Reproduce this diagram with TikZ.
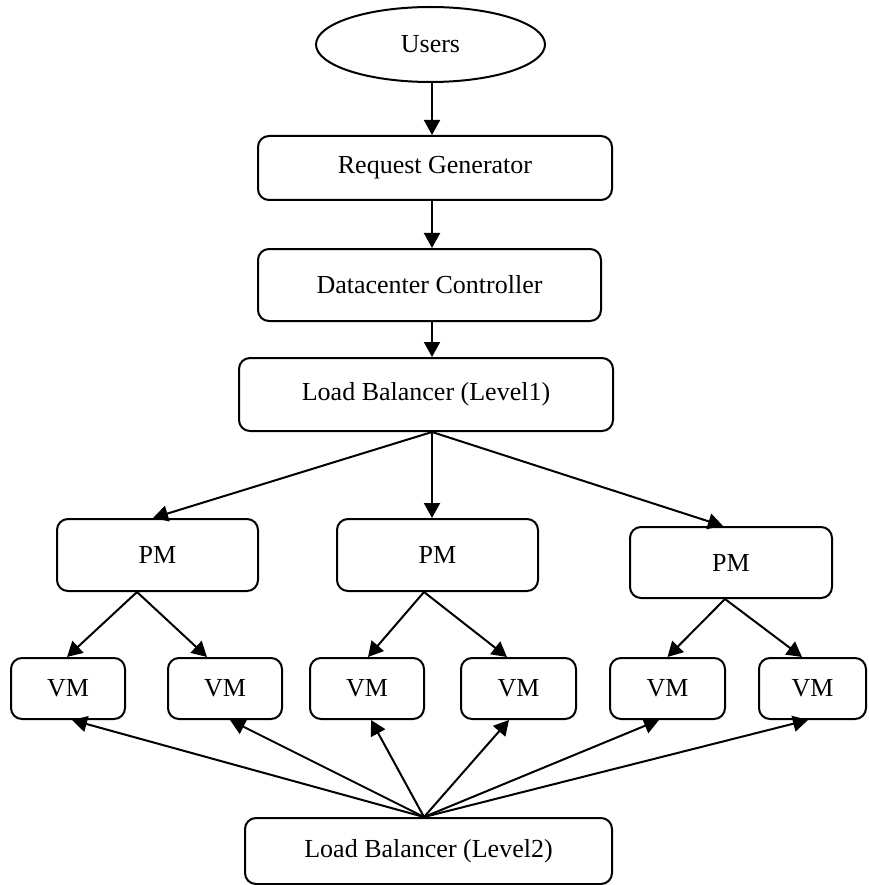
\documentclass[tikz,border=0pt]{standalone}
\usepackage{fontspec}
\setmainfont{Liberation Serif}
\usetikzlibrary{shapes.geometric,arrows.meta}
\begin{document}
\begin{tikzpicture}[x=1pt,y=-1pt,
  every node/.style={font=\fontsize{26}{30}\selectfont, line width=2pt, inner sep=0pt},
  box/.style={draw, rounded corners=11pt},
  oval/.style={draw, ellipse},
  arr/.style={line width=2pt, -{Triangle[length=15pt,width=16pt]}}]
\useasboundingbox (0,0) rectangle (868,885);
\node[oval, minimum width=229pt, minimum height=75pt] (users) at (430.5,44.5) {Users};
\node[box, minimum width=354pt, minimum height=64pt] (rg) at (435,168) {Request Generator};
\node[box, minimum width=343pt, minimum height=72pt] (dc) at (429.5,285) {Datacenter Controller};
\node[box, minimum width=374pt, minimum height=73pt] (lb1) at (426,394.5) {Load Balancer (Level1)};
\node[box, minimum width=201pt, minimum height=72pt] (pm1) at (157.5,555) {PM};
\node[box, minimum width=201pt, minimum height=72pt] (pm2) at (437.5,555) {PM};
\node[box, minimum width=202pt, minimum height=71pt] (pm3) at (731,562.5) {PM};
\node[box, minimum width=114pt, minimum height=61pt] (vm1) at (68,688.5) {VM};
\node[box, minimum width=114pt, minimum height=61pt] (vm2) at (225,688.5) {VM};
\node[box, minimum width=114pt, minimum height=61pt] (vm3) at (367,688.5) {VM};
\node[box, minimum width=115pt, minimum height=61pt] (vm4) at (518.5,688.5) {VM};
\node[box, minimum width=115pt, minimum height=61pt] (vm5) at (667.5,688.5) {VM};
\node[box, minimum width=107pt, minimum height=61pt] (vm6) at (812.5,688.5) {VM};
\node[box, minimum width=367pt, minimum height=66pt] (lb2) at (428.5,851) {Load Balancer (Level2)};

\draw[arr] ([xshift=1.5pt]users.south) -- ([xshift=-3pt]rg.north);
\draw[arr] ([xshift=-3pt]rg.south) -- ([xshift=2.5pt]dc.north);
\draw[arr] ([xshift=2.5pt]dc.south) -- ([xshift=6pt]lb1.north);

\draw[arr] ([xshift=6pt]lb1.south) -- ([xshift=-4.5pt]pm1.north);
\draw[arr] ([xshift=6pt]lb1.south) -- ([xshift=-5.5pt]pm2.north);
\draw[arr] ([xshift=6pt]lb1.south) -- ([xshift=-8pt]pm3.north);

\draw[arr] ([xshift=-20.5pt]pm1.south) -- ([xshift=-1pt]vm1.north);
\draw[arr] ([xshift=-20.5pt]pm1.south) -- ([xshift=-18pt]vm2.north);
\draw[arr] ([xshift=-13.5pt]pm2.south) -- ([xshift=1pt]vm3.north);
\draw[arr] ([xshift=-13.5pt]pm2.south) -- ([xshift=-11.5pt]vm4.north);
\draw[arr] ([xshift=-6pt]pm3.south) -- (vm5.north);
\draw[arr] ([xshift=-6pt]pm3.south) -- ([xshift=-10.5pt]vm6.north);

\draw[arr] ([xshift=-4.5pt]lb2.north) -- ([xshift=4pt]vm1.south);
\draw[arr] ([xshift=-4.5pt]lb2.north) -- ([xshift=5pt]vm2.south);
\draw[arr] ([xshift=-4.5pt]lb2.north) -- ([xshift=4pt]vm3.south);
\draw[arr] ([xshift=-4.5pt]lb2.north) -- ([xshift=-9.5pt]vm4.south);
\draw[arr] ([xshift=-4.5pt]lb2.north) -- ([xshift=-8.5pt]vm5.south);
\draw[arr] ([xshift=-4.5pt]lb2.north) -- ([xshift=-4.5pt]vm6.south);
\end{tikzpicture}
\end{document}
